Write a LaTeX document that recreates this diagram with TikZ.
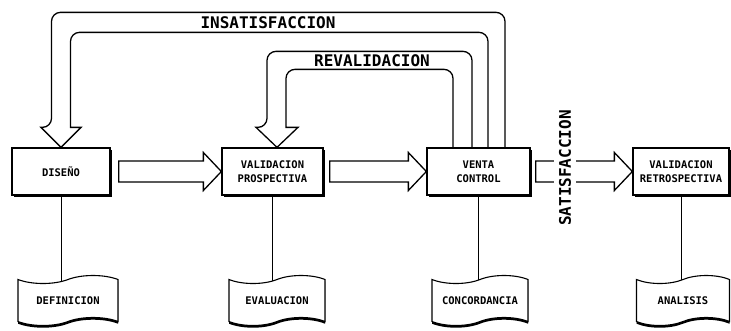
\documentclass[tikz,border=0pt]{standalone}
\usepackage{fontspec}
\setmonofont{DejaVu Sans Mono}
\usetikzlibrary{shapes.symbols, shadows, backgrounds}

\tikzset{
  caja/.style={draw, rectangle, line width=1.3pt, fill=white, minimum width=98pt, minimum height=47pt, align=center,
    font=\ttfamily\bfseries\fontsize{10.5}{14}\selectfont,
    drop shadow={shadow xshift=1.6pt, shadow yshift=-1.6pt, opacity=1, fill=black}},
  hoja/.style={draw, tape, tape bend height=8pt, line width=1.1pt, fill=white, minimum width=96pt, minimum height=50pt,
    font=\ttfamily\bfseries\fontsize{10.5}{14}\selectfont,
    drop shadow={shadow xshift=0pt, shadow yshift=-2.2pt, opacity=1, fill=black}},
  flecha/.style={draw, line width=1.3pt, fill=white},
  linea/.style={draw, line width=1pt},
  etiqueta/.style={font=\ttfamily\bfseries\fontsize{16}{16}\selectfont, inner sep=1pt},
}

% block arrow from box #1 to box #2, #3 = gap after #1
\newcommand{\flechah}[3]{%
  \draw[flecha] ([xshift=#3,yshift=10.5pt]#1.east) -- ([xshift=-18pt,yshift=10.5pt]#2.west)
    -- ([xshift=-18pt,yshift=19pt]#2.west) -- (#2.west) -- ([xshift=-18pt,yshift=-19pt]#2.west)
    -- ([xshift=-18pt,yshift=-10.5pt]#2.west) -- ([xshift=#3,yshift=-10.5pt]#1.east) -- cycle;}

\begin{document}
\begin{tikzpicture}[x=1pt, y=-1pt]
\useasboundingbox (0,0) rectangle (731,330);

\node[caja] (dis) at (61,171.5) {DISEÑO};
\node[caja, minimum width=101pt] (pro) at (272.5,171.5) {VALIDACION\\PROSPECTIVA};
\node[caja, minimum width=103pt] (ven) at (478.5,171.5) {VENTA\\CONTROL};
\node[caja, minimum width=96pt] (ret) at (681,171.5) {VALIDACION\\RETROSPECTIVA};

\node[hoja, minimum width=100pt] (d1) at (68,300.5) {DEFINICION};
\node[hoja] (d2) at (277,300.5) {EVALUACION};
\node[hoja] (d3) at (480,300.5) {CONCORDANCIA};
\node[hoja, minimum width=93pt] (d4) at (683,300.5) {ANALISIS};

\begin{pgfonlayer}{background}
\draw[linea] (dis.south) -- (dis.south |- d1.center);
\draw[linea] (pro.south) -- (pro.south |- d2.center);
\draw[linea] (ven.south) -- (ven.south |- d3.center);
\draw[linea] (ret.south) -- (ret.south |- d4.center);
\end{pgfonlayer}

\flechah{dis}{pro}{8pt}
\flechah{pro}{ven}{6pt}
\flechah{ven}{ret}{5pt}

% feedback arrows
\draw[flecha, fill=none] ([xshift=26.5pt]ven.north) [rounded corners=9pt] |- ([xshift=-9.5pt,yshift=135pt]dis.north)
  -- ([xshift=-9.5pt,yshift=20pt]dis.north) [sharp corners] -- ([xshift=-20pt,yshift=20pt]dis.north) -- (dis.north)
  -- ([xshift=20pt,yshift=20pt]dis.north) -- ([xshift=9.5pt,yshift=20pt]dis.north) [rounded corners=9pt]
  -- ([xshift=9.5pt,yshift=115pt]dis.north) -| ([xshift=9.5pt]ven.north);
\draw[flecha, fill=none] ([xshift=-6.5pt]ven.north) [rounded corners=9pt] |- ([xshift=-5.5pt,yshift=96pt]pro.north)
  -- ([xshift=-5.5pt,yshift=20pt]pro.north) [sharp corners] -- ([xshift=-16.5pt,yshift=20pt]pro.north) -- ([xshift=4.5pt]pro.north)
  -- ([xshift=25.5pt,yshift=20pt]pro.north) -- ([xshift=13.5pt,yshift=20pt]pro.north) [rounded corners=9pt]
  -- ([xshift=13.5pt,yshift=78pt]pro.north) -| ([xshift=-25.5pt]ven.north);

\node[etiqueta] (ins) at (268,23) {INSATISFACCION};
\node[etiqueta] (rev) at (372,61) {REVALIDACION};
\node[etiqueta, rotate=90, fill=white, inner ysep=5pt] (sat) at (565,168) {SATISFACCION};

\end{tikzpicture}
\end{document}
